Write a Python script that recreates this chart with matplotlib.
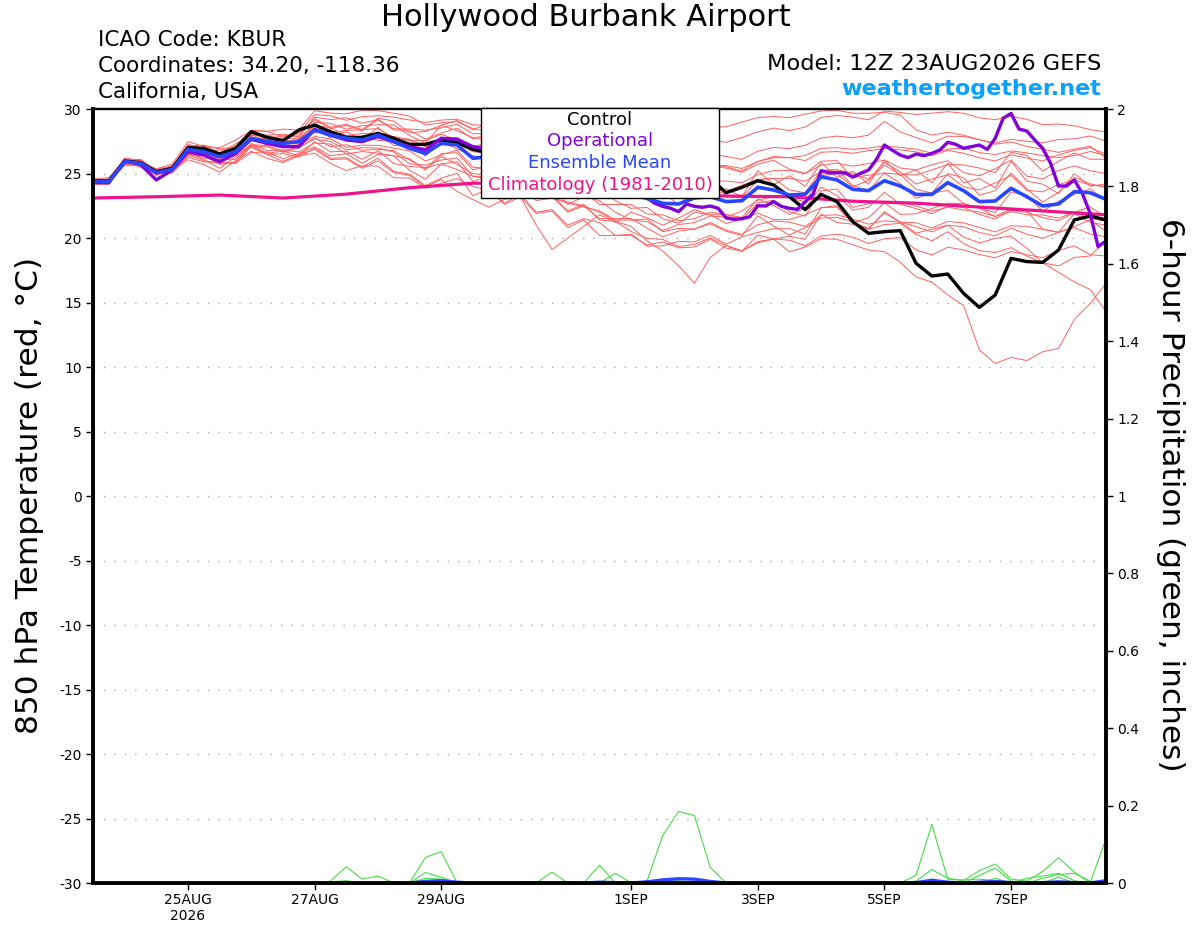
import matplotlib
matplotlib.use("Agg")
import matplotlib.pyplot as plt
import matplotlib.patches as patches
import pandas as panda
import numpy as np

plt.rcParams['font.family'] = ['DejaVu Sans']

# 6-hourly GEFS times, 12Z 23AUG2026 + 0..384 h
times = panda.date_range("2026-08-23 12:00", periods=65, freq="6h")
# operational run: 6-hourly to 204 h, then 3-hourly
op_hours = list(range(0, 205, 6)) + list(range(210, 385, 3))
op_times = panda.Timestamp("2026-08-23 12:00") + panda.to_timedelta(op_hours, unit="h")
clim_times = panda.date_range("2026-08-23 12:00", periods=17, freq="24h")

ens_mean = [24.37, 24.37, 25.92, 25.79, 25.06, 25.32,
            26.87, 26.69, 26.30, 26.69, 27.73, 27.47, 27.34, 27.47,
            28.37, 27.98, 27.73, 27.60, 27.98, 27.47, 26.95, 26.56, 27.34, 27.21, 26.18,
            26.3, 25.7, 25.9, 25.3, 25.1, 24.4, 24.6, 24.0, 23.7, 23.4, 23.07, 22.69, 22.64, 23.1, 23.2,
            22.82, 22.89, 23.93, 23.72, 23.33, 23.40, 24.75, 24.50, 23.77, 23.67, 24.44, 24.03,
            23.38, 23.38, 24.29, 23.67, 22.82, 22.87, 23.85, 23.20, 22.48, 22.64, 23.59, 23.51, 23.00]

control = [24.42, 24.42, 25.97, 25.84, 25.14, 25.40,
           27.00, 26.95, 26.51, 26.95, 28.24, 27.80, 27.55, 28.37,
           28.76, 28.24, 27.80, 27.80, 28.11, 27.73, 27.26, 27.26, 27.60, 27.39, 26.87,
           26.6, 26.9, 26.4, 26.0, 26.2, 25.8, 25.5, 25.7, 25.3, 25.0, 25.2, 24.8, 24.9, 24.6, 24.6,
           23.51, 23.93, 24.44, 24.11, 23.20, 22.20, 23.38, 22.82, 21.27, 20.36, 20.49, 20.57,
           18.04, 17.05, 17.21, 15.71, 14.62, 15.58, 18.42, 18.17, 18.11, 19.07, 21.40, 21.71, 21.40]

operational = [24.29, 24.29, 25.97, 25.71, 24.50, 25.27,
               26.69, 26.43, 25.92, 26.56, 27.65, 27.34, 27.08, 27.08,
               28.42, 27.98, 27.60, 27.47, 27.86, 27.47, 27.08, 26.82, 27.73, 27.65, 27.08,
               26.9, 26.5, 26.2, 25.7, 25.3, 24.9, 24.4, 24.0, 23.6, 23.3,
               23.1, 22.69, 22.45, 22.3, 22.04, 22.64, 22.45, 22.38, 22.48, 22.30,
               21.55, 21.45, 21.5, 21.65, 22.5, 22.48, 22.82, 22.45, 22.3, 22.22,
               22.8, 23.4, 25.22, 25.06, 25.06, 25.06, 24.72, 25.01, 25.27, 26.1,
               27.21, 26.8, 26.43, 26.23, 26.51, 26.38, 26.56, 26.82, 27.42, 27.26,
               26.95, 27.08, 27.21, 26.87, 27.73, 29.28, 29.66, 28.45, 28.29, 27.60,
               26.95, 25.79, 24.03, 24.03, 24.50, 23.46, 21.91, 19.33, 19.77]

climatology = [23.1, 23.2, 23.33, 23.1, 23.4, 23.9, 24.25, 24.2, 23.8,
               23.4, 23.25, 23.2, 22.85, 22.7, 22.4, 22.1, 21.8]

# ensemble members, as departures from the ensemble mean
member_offsets = [
    [0.1, 0.2, 0.1, 0.3, 0.2, 0.1,
     0.3, 0.5, 0.6, 0.4, 0.6, 0.8, 0.5, 0.7,
     1.2, 1.5, 1.4, 1.8, 1.5, 1.9, 2.2, 2.4, 1.8, 2.0, 2.6,
     2.4, 2.9, 2.5, 3.1, 2.8, 3.4, 3.0, 3.5, 3.3, 3.8, 3.6, 4.0, 4.2, 3.9, 4.4,
     4.6, 4.9, 4.3, 4.8, 5.0, 5.2, 4.6, 5.0, 5.6, 5.5, 5.4, 5.7,
     6.2, 6.3, 5.5, 6.0, 6.5, 6.3, 5.6, 6.0, 6.3, 6.2, 5.1, 4.9, 5.2],
    [0.0, -0.1, 0.2, 0.0, 0.3, 0.2,
     0.4, 0.2, 0.5, 0.3, 0.4, 0.2, 0.6, 0.4,
     1.0, 1.2, 1.6, 1.3, 1.2, 1.0, 1.5, 1.8, 1.2, 1.6, 1.9,
     1.8, 2.3, 2.0, 2.6, 2.4, 2.9, 2.5, 2.7, 3.0, 3.2, 3.4, 3.6, 3.1, 2.9, 3.3,
     3.5, 3.2, 2.8, 3.3, 3.6, 3.8, 3.0, 3.4, 4.0, 4.3, 4.6, 4.2,
     4.4, 4.0, 3.6, 4.2, 4.8, 4.5, 3.8, 4.3, 4.9, 5.0, 4.1, 4.4, 4.5],
    [-0.1, 0.0, 0.1, -0.1, 0.1, 0.0,
     0.2, 0.1, -0.2, 0.1, 0.3, 0.4, 0.2, 0.0,
     0.6, 0.9, 0.7, 1.1, 0.8, 1.3, 1.0, 0.8, 1.4, 1.1, 1.6,
     1.3, 1.9, 1.6, 2.2, 1.7, 2.4, 2.0, 2.3, 2.1, 2.6, 2.2, 2.8, 2.5, 2.0, 2.4,
     2.8, 2.5, 2.0, 2.6, 2.9, 3.0, 2.2, 2.5, 3.1, 3.3, 2.7, 3.0,
     3.5, 3.2, 2.6, 3.3, 3.8, 3.6, 2.9, 3.4, 3.9, 3.6, 2.8, 3.2, 3.4],
    [0.1, 0.1, -0.1, 0.1, -0.2, 0.1,
     -0.2, 0.0, 0.3, 0.2, -0.1, 0.3, 0.4, 0.2,
     0.4, 0.2, 0.6, 0.8, 0.5, 0.3, 0.6, 1.0, 0.7, 0.4, 0.9,
     0.6, 1.1, 0.8, 1.3, 1.0, 1.5, 1.2, 1.0, 1.6, 1.3, 1.1, 1.5, 1.8, 1.4, 1.2,
     1.6, 1.4, 1.0, 1.5, 1.9, 1.6, 0.9, 1.3, 1.8, 2.1, 1.6, 1.4,
     1.9, 2.3, 1.7, 1.4, 2.0, 2.5, 2.2, 1.6, 2.1, 2.6, 2.0, 1.7, 2.0],
    [0.0, 0.1, 0.0, 0.2, 0.0, -0.1,
     0.0, -0.3, -0.1, 0.2, 0.0, -0.2, 0.1, -0.1,
     0.2, -0.2, 0.0, 0.3, 0.1, -0.3, 0.2, 0.4, -0.1, 0.2, 0.5,
     0.3, 0.6, 0.2, 0.8, 0.4, 0.9, 0.5, 0.3, 0.7, 0.9, 0.6, 1.0, 0.7, 0.4, 0.8,
     0.5, 0.2, 0.6, 0.9, 0.4, 0.1, 0.5, 0.8, 0.3, 0.0, 0.6, 0.9,
     0.4, 0.1, 0.7, 1.0, 0.5, 0.8, 1.2, 0.6, 0.3, 0.9, 1.1, 0.7, 0.9],
    [-0.1, -0.2, -0.1, 0.0, -0.1, -0.2,
     -0.4, -0.2, -0.5, -0.3, -0.6, -0.4, -0.7, -0.5,
     -0.6, -0.9, -0.5, -0.8, -1.1, -0.7, -0.9, -1.2, -0.8, -0.6, -0.9,
     -0.7, -1.1, -0.8, -1.3, -0.9, -0.6, -1.0, -1.4, -1.1, -0.8, -1.2, -0.9, -1.3, -1.6, -1.2,
     -1.0, -1.3, -0.9, -1.2, -1.5, -1.1, -0.8, -1.2, -1.6, -1.3, -0.9, -1.4,
     -1.1, -1.5, -1.8, -1.3, -1.0, -1.4, -1.7, -1.2, -0.9, -1.3, -1.6, -1.1, -1.4],
    [-0.2, -0.1, -0.3, -0.2, 0.0, -0.3,
     -0.6, -0.8, -0.4, -0.9, -1.1, -0.8, -1.2, -0.9,
     -1.3, -1.6, -1.2, -1.8, -1.5, -1.1, -1.7, -2.0, -1.6, -1.9, -1.4,
     -1.7, -2.2, -1.8, -2.4, -2.0, -1.6, -2.1, -2.5, -2.2, -1.9, -2.3, -2.6, -2.1, -2.4, -2.0,
     -2.2, -2.6, -2.9, -2.4, -2.1, -2.5, -3.0, -2.7, -2.3, -2.6, -3.1, -2.8,
     -2.5, -2.9, -3.3, -2.8, -2.4, -2.7, -3.1, -2.9, -2.5, -2.2, -2.8, -3.2, -2.9],
    [0.2, 0.1, 0.0, -0.2, 0.1, -0.1,
     -0.8, -1.0, -1.2, -0.7, -1.0, -1.3, -1.5, -1.1,
     -1.8, -2.2, -2.5, -2.0, -2.4, -2.8, -2.3, -2.7, -3.1, -2.6, -2.2,
     -2.6, -3.0, -2.5, -3.3, -2.9, -3.4, -3.1, -2.8, -3.5, -3.2, -3.6, -3.0, -3.4, -3.8, -3.3,
     -3.6, -3.9, -4.3, -3.8, -3.5, -4.0, -4.6, -4.2, -3.7, -4.1, -4.5, -4.0,
     -4.3, -4.7, -5.0, -4.6, -4.1, -4.4, -4.9, -4.5, -4.0, -3.6, -4.2, -4.8, -4.4],
    [0.1, 0.0, -0.2, 0.0, 0.2, 0.0,
     -0.3, -0.5, -0.2, -0.6, -0.4, -0.7, -0.5, -0.8,
     -1.0, -0.7, -1.2, -0.9, -1.4, -1.1, -0.8, -1.3, -1.0, -1.5, -1.2,
     -1.4, -1.9, -1.6, -2.1, -1.8, -2.3, -2.0, -2.6, -2.4, -2.9, -3.1, -2.8, -3.3, -3.6, -3.2,
     -3.4, -3.9, -4.2, -3.8, -4.4, -4.1, -4.8, -4.6, -4.3, -4.6, -5.5, -5.9,
     -6.4, -6.8, -8.7, -8.9, -11.5, -12.6, -13.1, -12.7, -11.3, -11.2, -9.9, -8.6, -6.5],
    [-0.1, 0.1, 0.2, 0.1, -0.1, 0.2,
     0.1, -0.2, 0.2, -0.1, 0.1, -0.3, 0.0, -0.2,
     -0.5, -0.3, -0.7, -0.4, -0.8, -0.5, -0.2, -0.6, -0.9, -0.4, -0.7,
     -0.9, -1.3, -1.0, -1.6, -1.2, -1.8, -1.4, -1.1, -1.7, -2.0, -1.6, -2.2, -1.9, -2.4, -2.1,
     -2.3, -2.7, -2.2, -2.8, -3.1, -2.6, -3.2, -2.9, -2.5, -3.0, -3.4, -2.9,
     -3.1, -3.6, -3.8, -4.1, -3.8, -4.0, -4.6, -4.6, -4.4, -5.3, -7.0, -7.5, -8.7],
    [0.0, 0.2, 0.0, -0.1, 0.1, 0.3,
     -0.1, 0.2, 0.0, 0.3, -0.2, 0.1, -0.3, 0.2,
     -0.2, 0.3, -0.1, 0.2, -0.4, 0.0, 0.3, -0.2, 0.1, -0.3, 0.2,
     -0.1, -0.5, -0.2, -0.7, -0.4, -0.9, -0.6, -0.3, -0.8, -1.1, -0.7, -1.2, -1.5, -1.1, -1.4,
     -1.7, -1.4, -2.0, -2.3, -1.9, -1.6, -2.4, -2.1, -2.6, -2.9, -2.5, -2.8,
     -3.0, -2.7, -3.3, -3.6, -3.2, -2.9, -3.7, -4.0, -4.4, -4.8, -5.1, -4.9, -3.2],
    [0.0, -0.1, 0.1, 0.0, -0.2, -0.1,
     -0.2, -0.6, -0.9, -0.4, -0.7, -1.0, -1.4, -1.0,
     -1.5, -1.9, -1.6, -2.2, -2.0, -2.4, -2.1, -2.6, -2.8, -3.6, -3.2,
     -3.9, -2.7, -2.7, -4.3, -6.0, -4.4, -3.7, -2.2, -2.5, -1.4, -1.5, -1.7, -1.1, -0.9, -1.4,
     -1.0, -1.5, -1.2, -0.8, -1.3, -1.7, -1.1, -0.7, -1.4, -1.0, -1.6, -1.2,
     -0.9, -1.3, -1.9, -1.5, -0.8, -1.2, -1.8, -1.4, -0.7, -1.1, -1.6, -2.0, -1.7],
    [-0.2, -0.2, 0.0, -0.3, -0.1, -0.2,
     -0.5, -0.3, -0.6, -0.8, -0.5, -0.9, -0.6, -1.1,
     -0.9, -1.3, -1.0, -1.5, -1.2, -1.7, -1.4, -1.1, -1.6, -1.3, -1.8,
     -1.5, -2.0, -1.7, -2.2, -1.9, -2.4, -2.1, -2.0, -2.4, -2.5, -3.3, -3.7, -4.8, -6.6, -4.7,
     -3.4, -3.9, -3.7, -3.8, -3.2, -3.5, -2.9, -3.3, -2.7, -3.0, -2.4, -2.8,
     -2.2, -2.6, -3.0, -2.5, -2.0, -2.4, -2.9, -2.3, -1.8, -2.2, -2.7, -2.1, -2.5],
    [0.2, 0.3, 0.2, 0.1, 0.3, 0.4,
     0.6, 0.4, 0.7, 0.9, 0.6, 0.8, 1.1, 0.9,
     1.5, 1.7, 1.9, 2.3, 1.9, 2.2, 2.5, 2.2, 1.6, 1.8, 2.3,
     2.0, 1.6, 1.9, 1.4, 1.7, 1.2, 1.5, 1.0, 1.3, 0.9, 1.2, 0.8, 1.1, 0.7, 1.0,
     0.8, 1.2, 0.6, 0.9, 1.3, 1.0, 0.4, 0.8, 1.2, 0.9, 1.4, 1.1,
     0.8, 1.2, 0.6, 0.3, 0.9, 1.4, 1.0, 0.5, 1.1, 1.5, 0.9, 0.6, 1.0],
    [0.1, 0.0, 0.3, 0.2, 0.0, 0.2,
     0.2, 0.5, 0.3, 0.6, 0.2, 0.5, 0.3, 0.6,
     0.8, 0.5, 1.0, 0.7, 1.2, 0.9, 1.4, 1.1, 0.8, 1.3, 1.5,
     1.8, 1.4, 2.1, 1.7, 2.4, 2.0, 2.6, 2.3, 2.8, 2.5, 2.9, 2.6, 2.2, 2.7, 2.4,
     2.6, 2.2, 1.8, 2.3, 2.0, 1.6, 1.2, 1.5, 0.9, 1.2, 0.6, 0.2,
     -0.3, 0.1, -0.6, -1.0, -0.5, -1.2, -1.6, -1.1, -1.8, -2.2, -1.7, -2.3, -2.0],
    [-0.1, 0.0, -0.2, -0.1, 0.0, 0.1,
     -0.3, -0.1, -0.4, -0.2, -0.5, -0.3, -0.6, -0.4,
     -0.7, -0.5, -0.9, -0.6, -1.0, -0.8, -1.2, -0.9, -1.3, -1.0, -1.4,
     -1.6, -1.2, -1.8, -1.4, -2.0, -1.7, -2.2, -1.9, -2.3, -2.0, -1.8, -2.1, -1.6, -1.9, -1.5,
     -1.2, -0.8, -1.0, -0.5, -0.2, -0.6, 0.1, 0.5, 0.2, 0.8, 1.2, 0.9,
     1.5, 1.9, 1.4, 2.0, 2.6, 2.2, 2.8, 3.2, 2.7, 3.3, 3.0, 2.6, 3.1],
    [0.0, 0.1, -0.1, 0.2, 0.1, 0.0,
     0.1, 0.3, 0.1, 0.4, 0.2, 0.5, 0.7, 0.4,
     0.9, 0.6, 1.1, 0.8, 1.3, 1.6, 1.2, 1.7, 1.4, 1.9, 2.2,
     2.6, 3.0, 2.7, 3.3, 3.6, 3.2, 3.8, 4.1, 3.7, 4.3, 4.6, 4.8, 5.2, 4.9, 5.4,
     5.8, 6.1, 5.4, 5.7, 6.0, 6.2, 5.1, 5.4, 5.9, 6.0, 5.3, 5.5,
     5.0, 4.6, 3.9, 4.3, 4.8, 4.4, 3.6, 3.9, 4.4, 4.0, 3.3, 3.6, 3.2],
    [-0.1, 0.1, -0.2, 0.1, -0.1, 0.2,
     0.3, -0.1, 0.2, -0.3, 0.3, 0.0, 0.3, -0.2,
     0.4, -0.1, 0.5, 0.0, 0.6, 0.1, 0.7, -0.2, 0.5, 0.0, 0.8,
     0.2, 0.9, 0.0, 1.1, 0.3, 1.0, -0.2, 0.8, 0.1, 1.2, 0.4, 0.9, -0.1, 0.7, 0.2,
     1.0, 0.3, 1.3, 0.4, 1.5, 0.6, 1.1, 0.2, 1.4, 0.5, 1.6, 0.8,
     1.9, 0.9, 1.5, 0.6, 1.8, 1.0, 2.1, 1.2, 1.7, 0.8, 1.4, 0.5, 1.2],
    [0.1, -0.1, 0.0, -0.2, 0.0, -0.1,
     -0.4, -0.7, -0.5, -0.9, -0.6, -1.0, -0.8, -1.2,
     -1.4, -1.8, -1.5, -2.1, -1.8, -2.3, -2.0, -2.5, -2.7, -2.2, -2.9,
     -2.5, -3.1, -2.7, -3.4, -3.0, -3.6, -3.2, -3.8, -3.5, -3.1, -3.7, -3.3, -2.9, -3.4, -3.0,
     -3.3, -2.8, -3.5, -3.0, -2.6, -3.1, -2.4, -2.0, -2.6, -2.1, -1.7, -2.2,
     -1.5, -1.1, -1.6, -1.0, -0.5, -0.9, -0.3, 0.1, -0.4, 0.2, -0.2, 0.3, -0.1],
    [0.2, 0.0, 0.1, 0.3, 0.1, 0.2,
     0.1, 0.3, 0.0, 0.2, -0.1, 0.2, 0.0, 0.3,
     0.3, 0.6, 0.2, 0.5, 0.1, 0.4, 0.7, 0.5, 0.2, 0.6, 0.9,
     1.1, 0.7, 1.3, 0.9, 1.5, 1.2, 1.7, 1.4, 1.9, 1.6, 2.1, 1.8, 2.3, 2.0, 2.5,
     2.7, 2.3, 2.0, 2.5, 2.9, 2.6, 1.9, 2.2, 2.8, 3.1, 2.5, 2.8,
     3.3, 3.0, 2.5, 2.9, 3.4, 3.1, 2.6, 3.0, 3.5, 3.8, 3.2, 3.5, 3.5],
]

# 6-hour precipitation (inches), a few wet members and the ensemble mean
precip_members = [
    [0, 0, 0, 0, 0, 0, 0, 0, 0, 0, 0, 0, 0, 0, 0, 0.005, 0.042, 0.01, 0.018, 0,
     0, 0.066, 0.081, 0, 0, 0, 0, 0, 0, 0, 0, 0, 0.046, 0, 0, 0.005, 0.123, 0.185, 0.174, 0.04,
     0, 0, 0, 0, 0, 0, 0, 0, 0, 0, 0, 0, 0.02, 0.151, 0.01, 0.008, 0.01, 0.006, 0, 0.012,
     0.018, 0.025, 0.006, 0, 0.115],
    [0, 0, 0, 0, 0, 0, 0, 0, 0, 0, 0, 0, 0, 0, 0, 0, 0, 0, 0, 0,
     0, 0.027, 0.015, 0, 0, 0, 0, 0, 0, 0.028, 0, 0, 0, 0.025, 0, 0, 0, 0, 0, 0,
     0, 0, 0, 0, 0, 0, 0, 0, 0, 0, 0, 0, 0.005, 0.035, 0.012, 0.006, 0.032, 0.049, 0.01, 0.005,
     0.03, 0.065, 0.028, 0, 0],
    [0, 0, 0, 0, 0, 0, 0, 0, 0, 0, 0, 0, 0, 0, 0, 0, 0, 0, 0, 0,
     0, 0, 0.008, 0, 0, 0, 0, 0, 0, 0, 0, 0, 0, 0, 0, 0, 0.004, 0.006, 0, 0,
     0, 0, 0, 0, 0, 0, 0, 0, 0, 0, 0, 0, 0, 0, 0, 0, 0.02, 0.038, 0.005, 0,
     0.012, 0.022, 0.025, 0.005, 0],
    [0, 0, 0, 0, 0, 0, 0, 0, 0, 0, 0, 0, 0, 0, 0, 0.003, 0.006, 0, 0, 0,
     0, 0.012, 0.01, 0, 0, 0, 0, 0, 0, 0, 0, 0, 0, 0, 0, 0, 0, 0, 0, 0,
     0, 0, 0, 0, 0, 0, 0, 0, 0, 0, 0, 0, 0, 0.01, 0, 0, 0, 0.012, 0, 0,
     0, 0.015, 0, 0, 0],
]
precip_mean = [0, 0, 0, 0, 0, 0, 0, 0, 0, 0, 0, 0, 0, 0, 0, 0, 0.001, 0, 0, 0,
               0, 0.004, 0.006, 0.002, 0, 0, 0, 0, 0, 0.001, 0, 0, 0.002, 0.001, 0, 0.003, 0.008, 0.011, 0.01, 0.004,
               0, 0, 0, 0, 0, 0, 0, 0, 0, 0, 0, 0, 0.001, 0.007, 0.002, 0, 0.002, 0.004, 0.001, 0,
               0.001, 0.003, 0.001, 0, 0.006]

tick_dates = ["2026-08-25", "2026-08-27", "2026-08-29", "2026-09-01",
              "2026-09-03", "2026-09-05", "2026-09-07"]
tick_labels = ["25AUG\n2026", "27AUG", "29AUG", "1SEP", "3SEP", "5SEP", "7SEP"]

red = "#FF6060"
purple = "#8200DC"
blue = "#2846FF"
pink = "#F0148C"
green = "#44DD44"

# figure and axes placed like the GrADS page
fig = plt.figure(figsize=(12, 9.27), dpi=100)
axis = fig.add_axes([0.0775, 0.04746, 0.84417, 0.83495])
axis2 = axis.twinx()

# dotted grid lines every 5 degrees
for level in range(-25, 30, 5):
    axis.axhline(level, color="#AAAAAA", linestyle=(0, (1, 6.5)), linewidth=1, zorder=1)

# ensemble members
mean_array = np.array(ens_mean)
for offset in member_offsets:
    axis.plot(times, mean_array + np.array(offset), color=red, linewidth=0.7, zorder=2)

axis.plot(clim_times, climatology, color=pink, linewidth=2.3, zorder=4)
axis.plot(times, control, color="black", linewidth=2.4, zorder=5)
axis.plot(op_times, operational, color=purple, linewidth=2.4, zorder=6)
axis.plot(times, ens_mean, color=blue, linewidth=2.6, zorder=7)

# precipitation on the right axis, kept under the thick bottom spine at zero
for series in precip_members:
    axis2.plot(times, series, color=green, linewidth=0.8, zorder=2)
axis2.plot(times, precip_mean, color=blue, linewidth=2.4, zorder=2.2)

axis.set_xlim(times[0], times[-1])
axis.set_ylim(-30, 30)
axis2.set_ylim(0, 2)

axis.set_yticks(range(-30, 31, 5))
axis.set_yticklabels([str(v) for v in range(-30, 31, 5)])
axis2.set_yticks(np.arange(0, 2.01, 0.2))
axis2.set_yticklabels(["0", "0.2", "0.4", "0.6", "0.8", "1", "1.2", "1.4", "1.6", "1.8", "2"])
axis.set_xticks(panda.to_datetime(tick_dates))
axis.set_xticklabels(tick_labels)

axis.tick_params(axis="both", direction="out", length=5, width=1, labelsize=10, pad=3)
axis2.tick_params(axis="y", direction="out", length=5, width=1, labelsize=10, pad=3)
axis.tick_params(axis="x", pad=2)

for side in ["left", "bottom", "right"]:
    axis.spines[side].set_linewidth(2.6)
    axis2.spines[side].set_linewidth(2.6)
    axis2.spines[side].set_zorder(3)
axis.spines["top"].set_linewidth(1.6)
axis2.spines["top"].set_linewidth(1.6)

# legend box in the top middle
box = patches.Rectangle((0.383, 0.885), 0.235, 0.116, transform=axis.transAxes,
                        facecolor="white", edgecolor="black", linewidth=1,
                        clip_on=False, zorder=10)
axis2.add_patch(box)
legend_rows = [("Control", "black", 0.9858), ("Operational", purple, 0.9587),
               ("Ensemble Mean", blue, 0.9302), ("Climatology (1981-2010)", pink, 0.9018)]
for label, colour, ypos in legend_rows:
    axis2.text(0.5005, ypos, label, color=colour, fontsize=13, ha="center", va="center",
               transform=axis.transAxes, zorder=11)

# header texts
fig.text(586 / 1200, 1 - 18 / 927, "Hollywood Burbank Airport", fontsize=22,
         ha="center", va="center")
fig.text(98 / 1200, 1 - 40 / 927, "ICAO Code: KBUR", fontsize=15.5, ha="left", va="center")
fig.text(98 / 1200, 1 - 66 / 927, "Coordinates: 34.20, -118.36", fontsize=15.5, ha="left", va="center")
fig.text(98 / 1200, 1 - 92 / 927, "California, USA", fontsize=15.5, ha="left", va="center")
fig.text(1101 / 1200, 1 - 64 / 927, "Model: 12Z 23AUG2026 GEFS", fontsize=16.2, ha="right", va="center")
fig.text(1101 / 1200, 1 - 89 / 927, "weathertogether.net", fontsize=16, fontweight="bold",
         color="#0AA0FF", ha="right", va="center")

# axis titles
fig.text(30 / 1200, 1 - 495 / 927, "850 hPa Temperature (red, \u00b0C)", fontsize=22.5,
         rotation=90, ha="center", va="center")
fig.text(1170 / 1200, 1 - 495 / 927, "6-hour Precipitation (green, inches)", fontsize=22.5,
         rotation=270, ha="center", va="center")

fig.savefig("out.png", dpi=100)
